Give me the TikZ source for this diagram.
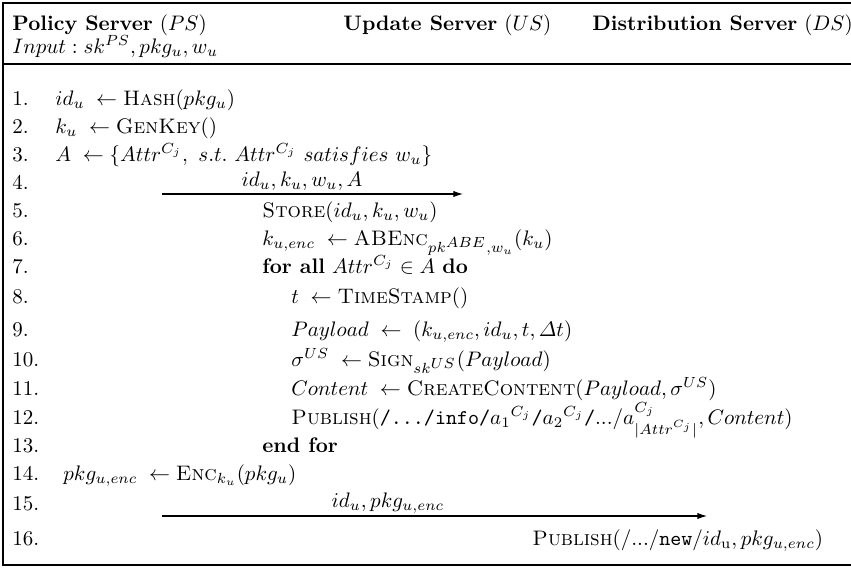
\documentclass[tikz,border=0pt]{standalone}
\usepackage{amsmath,amssymb}
\usepackage{tikz}
\usetikzlibrary{arrows.meta, positioning}

\begin{document}
\begin{tikzpicture}[
    x=0.476pt, y=-0.476pt,
    cell/.style={anchor=base west, inner sep=0pt},
    lineno/.style={anchor=base west, inner sep=0pt},
    msglabel/.style={anchor=base, inner sep=0pt},
    rule/.style={line width=0.5pt},
    arrow/.style={-{Latex[length=4.6pt, width=3pt]}, line width=0.5pt}
]
\useasboundingbox (0,0) rectangle (851,568);

% Frame
\draw[rule] (851,3) -- (3,3) -- (3,565) -- (851,565);
\draw[rule] (3,64) -- (851,64);

% Header
\node[cell] (ps) at (12,30) {\textbf{Policy Server} $(PS)$};
\node[cell] (us) at (343,30) {\textbf{Update Server} $(US)$};
\node[cell] (ds) at (592,30) {\textbf{Distribution Server} $(DS)$};
\node[cell] (input) at (12,53) {$Input : sk^{PS}, pkg_u, w_u$};

% Line numbers
\node[lineno] (n1) at (12,105) {1.};
\node[lineno] (n2) at (12,133) {2.};
\node[lineno] (n3) at (12,161) {3.};
\node[lineno] (n4) at (12,189) {4.};
\node[lineno] (n5) at (12,217) {5.};
\node[lineno] (n6) at (12,245) {6.};
\node[lineno] (n7) at (12,273) {7.};
\node[lineno] (n8) at (12,303) {8.};
\node[lineno] (n9) at (12,336) {9.};
\node[lineno] (n10) at (12,366) {10.};
\node[lineno] (n11) at (12,395) {11.};
\node[lineno] (n12) at (12,424) {12.};
\node[lineno] (n13) at (12,452) {13.};
\node[lineno] (n14) at (12,480) {14.};
\node[lineno] (n15) at (12,510) {15.};
\node[lineno] (n16) at (12,545) {16.};

% Policy server
\node[cell] (hash) at (55,105) {$id_u \;\leftarrow \textsc{Hash}(pkg_u)$};
\node[cell] (genkey) at (55,133) {$k_u \;\leftarrow \textsc{GenKey}()$};
\node[cell] (attrs) at (55,161) {$A \;\leftarrow \{Attr^{C_j},\ s.t.\ Attr^{C_j}\ satisfies\ w_u\}$};

% Message to update server
\coordinate (m1from) at (162,194);
\coordinate (m1to) at (463,194);
\draw[arrow] (m1from) -- (m1to);
\node[msglabel] (m1) at (302,186) {$id_u, k_u, w_u, A$};

% Update server
\node[cell] (store) at (262,217) {$\textsc{Store}(id_u, k_u, w_u)$};
\node[cell] (abenc) at (262,245) {$k_{u,enc} \;\leftarrow \textsc{ABEnc}_{pk^{\scriptstyle ABE}, w_u}(k_u)$};
\node[cell] (forall) at (262,273) {\textbf{for all} $Attr^{C_j} \in A$ \textbf{do}};
\node[cell] (stamp) at (291,303) {$t \;\leftarrow \textsc{TimeStamp}()$};
\node[cell] (payload) at (291,336) {$Payload \;\leftarrow\; (k_{u,enc}, id_u, t, \varDelta t)$};
\node[cell] (sign) at (291,366) {$\sigma^{US} \;\leftarrow \textsc{Sign}_{sk^{\scriptstyle US}}(Payload)$};
\node[cell] (content) at (291,395) {$Content \;\leftarrow \textsc{CreateContent}(Payload, \sigma^{US})$};
\node[cell] (publish) at (291,424) {$\textsc{Publish}(\texttt{/.../info/}{a_1}^{C_j}\texttt{/}{a_2}^{C_j}\texttt{/}.../a^{C_j}_{|Attr^{C_j}|}, Content)$};
\node[cell] (endfor) at (262,452) {\textbf{end for}};

% Policy server again
\node[cell] (enc) at (63,480) {$pkg_{u,enc} \;\leftarrow \textsc{Enc}_{k_u}(pkg_u)$};

% Message to distribution server
\coordinate (m2from) at (162,516);
\coordinate (m2to) at (707,516);
\draw[arrow] (m2from) -- (m2to);
\node[msglabel] (m2) at (388,507) {$id_u, pkg_{u,enc}$};

% Distribution server
\node[cell] (pubnew) at (532,545) {$\textsc{Publish}(/.../\texttt{new}/id_{\mathrm{u}}, pkg_{u,enc})$};

\end{tikzpicture}
\end{document}
